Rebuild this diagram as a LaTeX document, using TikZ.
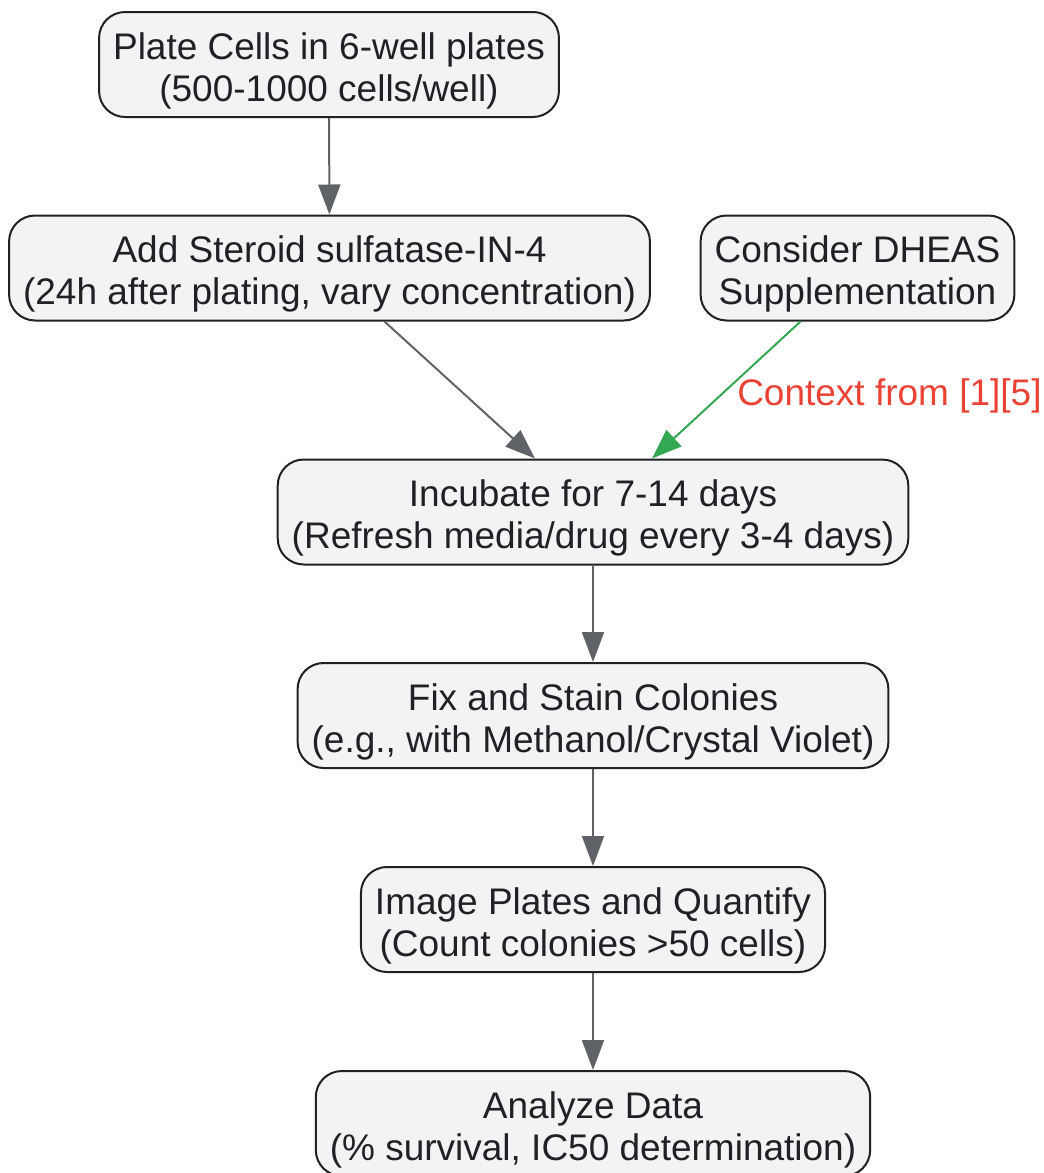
\documentclass[tikz,border=0pt]{standalone}
\usepackage{fontspec}
\setmainfont{Liberation Sans}
\usetikzlibrary{arrows.meta}

\definecolor{boxfill}{HTML}{F1F3F4}
\definecolor{boxline}{HTML}{202124}
\definecolor{arrowgray}{HTML}{5F6368}
\definecolor{ctxgreen}{HTML}{34A853}
\definecolor{ctxred}{HTML}{EA4335}

\begin{document}
\begin{tikzpicture}[
  x=1pt, y=-1pt,
  every node/.style={font=\fontsize{37}{42}\selectfont, text=boxline},
  box/.style={draw=boxline, line width=2pt, fill=boxfill, rounded corners=26pt, align=center, inner xsep=14pt, text height=81pt, minimum height=105pt},
  arrow/.style={-{Triangle[length=30pt,width=22pt]}, line width=2pt, draw=arrowgray}
]
\useasboundingbox (0,0) rectangle (1044,1173);

% Top
\node[box] (plate) at (329,64.5) {Plate Cells in 6-well plates\\(500-1000 cells/well)};

% Second row
\node[box] (add) at (329.5,268) {Add Steroid sulfatase-IN-4\\(24h after plating, vary concentration)};
\node[box] (dheas) at (857.5,268) {Consider DHEAS\\Supplementation};

% Main column
\node[box] (incubate) at (593,512) {Incubate for 7-14 days\\(Refresh media/drug every 3-4 days)};
\node[box] (fix) at (593,715.5) {Fix and Stain Colonies\\(e.g., with Methanol/Crystal Violet)};
\node[box] (image) at (593,919.5) {Image Plates and Quantify\\(Count colonies >50 cells)};
\node[box] (analyze) at (593,1123.5) {Analyze Data\\(\% survival, IC50 determination)};

% Arrows
\draw[arrow] (plate) -- (add);
\draw[arrow] ([xshift=55pt]add.south) -- ([xshift=-58pt]incubate.north);
\draw[arrow, draw=ctxgreen, -{Triangle[length=30pt,width=22pt,fill=ctxgreen]}] ([xshift=-57pt]dheas.south) -- node[right, inner sep=10pt, yshift=-6pt, text=ctxred] {Context from [1][5]} ([xshift=59pt]incubate.north);
\draw[arrow] (incubate) -- (fix);
\draw[arrow] (fix) -- (image);
\draw[arrow] (image) -- (analyze);

\end{tikzpicture}
\end{document}
